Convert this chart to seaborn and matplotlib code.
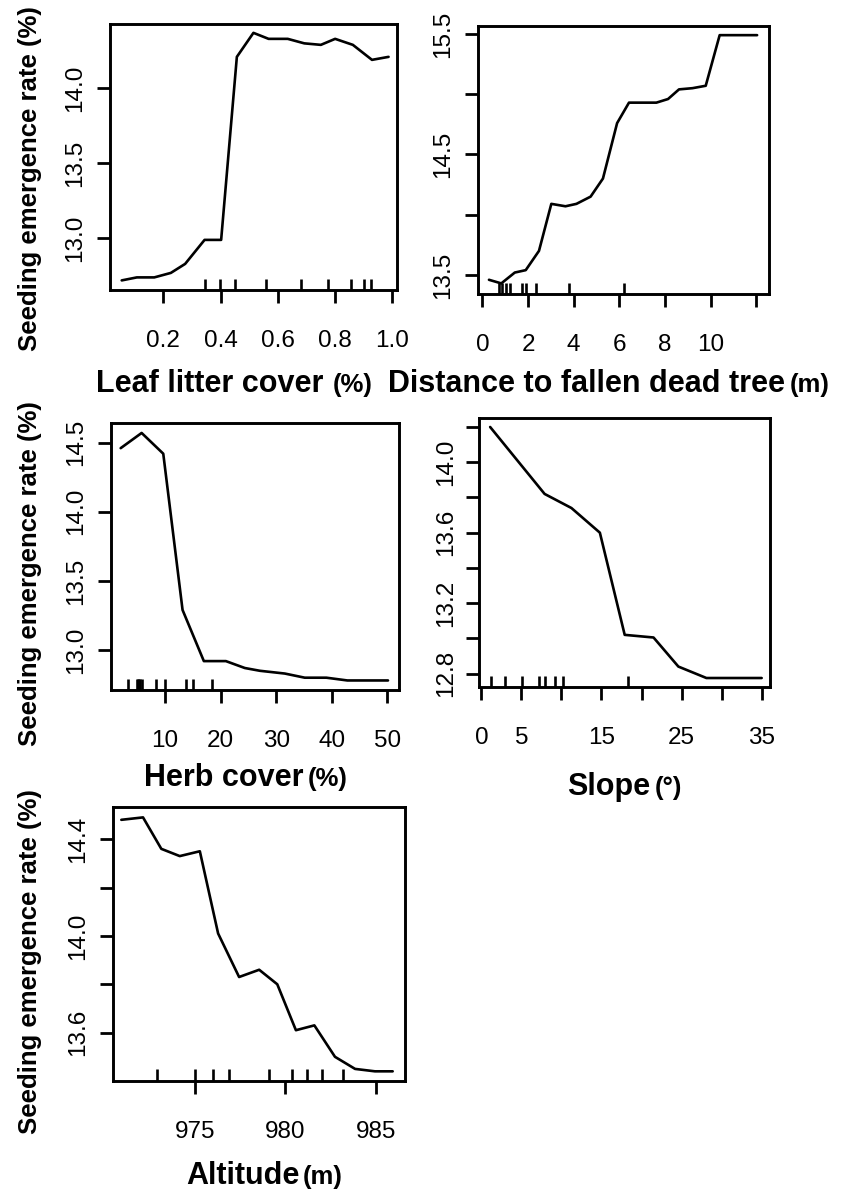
import numpy as np
import pandas as pd
import seaborn as sns
import matplotlib.pyplot as plt

# partial dependence curves
leaf_x = [0.054, 0.107, 0.168, 0.226, 0.276, 0.344, 0.402, 0.457, 0.515, 0.568, 0.635, 0.693, 0.751, 0.801, 0.863, 0.930, 0.988]
leaf_y = [12.72, 12.74, 12.74, 12.77, 12.83, 12.99, 12.99, 14.21, 14.37, 14.33, 14.33, 14.30, 14.29, 14.33, 14.29, 14.19, 14.21]
leaf_rug = [0.346, 0.399, 0.452, 0.559, 0.681, 0.776, 0.858, 0.901, 0.928]

dist_x = [0.29, 0.83, 1.42, 1.90, 2.48, 3.02, 3.64, 4.12, 4.74, 5.28, 5.90, 6.42, 7.62, 8.13, 8.61, 9.20, 9.78, 10.39, 12.03]
dist_y = [13.46, 13.43, 13.52, 13.54, 13.70, 14.09, 14.07, 14.09, 14.15, 14.30, 14.76, 14.93, 14.93, 14.96, 15.04, 15.05, 15.07, 15.49, 15.49]
dist_rug = [0.73, 0.85, 1.05, 1.20, 1.75, 1.93, 2.34, 3.78, 6.20]

herb_x = [2.04, 5.81, 9.70, 13.17, 17.0, 20.96, 24.37, 27.07, 31.56, 35.15, 39.04, 42.81, 50.12]
herb_y = [14.46, 14.57, 14.42, 13.29, 12.92, 12.92, 12.87, 12.85, 12.83, 12.80, 12.80, 12.78, 12.78]
herb_rug = [3.3, 4.9, 5.1, 5.3, 5.5, 5.8, 8.4, 10.1, 13.7, 15.0, 18.4]

slope_x = [1.1, 7.9, 11.25, 14.8, 17.9, 21.5, 24.6, 28.1, 35.0]
slope_y = [14.20, 13.82, 13.74, 13.60, 13.02, 13.005, 12.84, 12.775, 12.775]
slope_rug = [1.25, 3.0, 5.1, 7.2, 7.9, 9.2, 10.2, 18.25]

alt_x = [970.94, 972.14, 973.15, 974.17, 975.28, 976.29, 977.45, 978.56, 979.56, 980.59, 981.61, 982.75, 983.86, 984.96, 985.94]
alt_y = [14.48, 14.49, 14.36, 14.33, 14.35, 14.01, 13.83, 13.86, 13.80, 13.61, 13.63, 13.50, 13.45, 13.44, 13.44]
alt_rug = [972.9, 975.0, 976.0, 976.9, 979.1, 980.35, 981.2, 982.05, 983.2]

ylab = 'Seeding emergence rate (%)'

sns.set_style('ticks')
plt.rcParams['font.family'] = ['Liberation Sans', 'DejaVu Sans']
plt.rcParams['text.color'] = 'black'

W, H = 843, 1191
fig = plt.figure(figsize=(W / 100, H / 100), dpi=100)


def box(x0, y0, x1, y1):
    return [x0 / W, 1 - y1 / H, (x1 - x0) / W, (y1 - y0) / H]


def panel(rect, xs, ys, rug, xlim, ylim, xticks, xlabels, yticks, ylabels, ypad=8):
    ax = fig.add_axes(box(*rect))
    sns.lineplot(x=xs, y=ys, ax=ax, color='black', linewidth=1.9, estimator=None)
    sns.rugplot(x=rug, ax=ax, height=0.042, color='black', linewidth=1.9)
    ax.set_xlim(xlim)
    ax.set_ylim(ylim)
    ax.set_xticks(xticks)
    ax.set_xticklabels(xlabels, fontsize=17.5)
    ax.set_yticks(yticks)
    ax.set_yticklabels(ylabels, fontsize=17.5, rotation=90, va='center')
    ax.tick_params(axis='both', direction='out', length=9.5, width=2.0, color='black',
                   labelcolor='black', bottom=True, left=True, top=False, right=False)
    ax.tick_params(axis='x', pad=19)
    ax.tick_params(axis='y', pad=ypad)
    for s in ax.spines.values():
        s.set_visible(True)
        s.set_linewidth(2.1)
        s.set_color('black')
    ax.set_xlabel('')
    ax.set_ylabel('')
    return ax


def xlabel(main_end, unit_start, base, main, unit):
    fig.text(main_end / W, 1 - base / H, main, ha='right', va='baseline', fontsize=22,
             fontweight='bold', color='black')
    fig.text(unit_start / W, 1 - base / H, unit, ha='left', va='baseline', fontsize=18.5,
             fontweight='bold', color='black')


def ylabel(cy):
    fig.text(30 / W, 1 - cy / H, ylab, rotation=90, ha='center', va='center', fontsize=18.5,
             fontweight='bold', color='black')


panel((110, 24, 397, 290), leaf_x, leaf_y, leaf_rug, (0.013, 1.0175), (12.656, 14.429),
      [0.2, 0.4, 0.6, 0.8, 1.0], ['0.2', '0.4', '0.6', '0.8', '1.0'],
      [13.0, 13.5, 14.0], ['13.0', '13.5', '14.0'])
xlabel(323, 333, 392, 'Leaf litter cover', '(%)')
ylabel(179)

panel((478, 26, 769, 294), dist_x, dist_y, dist_rug, (-0.19, 12.55), (13.342, 15.566),
      [0, 2, 4, 6, 8, 10, 12], ['0', '2', '4', '6', '8', '10', ''],
      [13.5, 14.0, 14.5, 15.0, 15.5], ['13.5', '', '14.5', '', '15.5'])
xlabel(785, 790, 392, 'Distance to fallen dead tree', '(m)')

panel((111, 423, 399, 690), herb_x, herb_y, herb_rug, (0.30, 52.1), (12.711, 14.642),
      [10, 20, 30, 40, 50], ['10', '20', '30', '40', '50'],
      [13.0, 13.5, 14.0, 14.5], ['13.0', '13.5', '14.0', '14.5'])
xlabel(303, 308, 786, 'Herb cover', '(%)')
ylabel(574)

panel((479, 418, 770, 687), slope_x, slope_y, slope_rug, (-0.29, 36.04), (12.724, 14.251),
      [0, 5, 10, 15, 20, 25, 30, 35], ['0', '5', '', '15', '', '25', '', '35'],
      [12.8, 13.0, 13.2, 13.4, 13.6, 13.8, 14.0, 14.2], ['12.8', '', '13.2', '', '13.6', '', '14.0', ''],
      ypad=6.5)
xlabel(650, 655, 795, 'Slope', '(°)')

panel((113, 807, 405, 1081), alt_x, alt_y, alt_rug, (970.48, 986.62), (13.40, 14.533),
      [975, 980, 985], ['975', '980', '985'],
      [13.6, 13.8, 14.0, 14.2, 14.4], ['13.6', '', '14.0', '', '14.4'])
xlabel(300, 303, 1184, 'Altitude', '(m)')
ylabel(962)

fig.savefig('out.png', dpi=100)
